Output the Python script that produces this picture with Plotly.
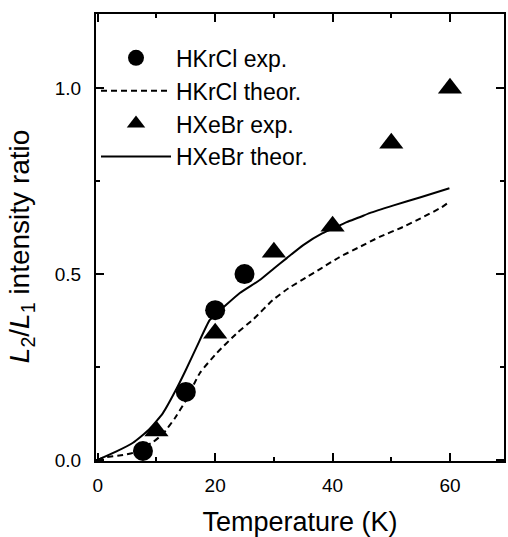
import plotly.graph_objects as go

# HKrCl experimental
t_hkrcl_exp = [7.7, 15, 20, 25]
r_hkrcl_exp = [0.024, 0.183, 0.403, 0.500]

# HXeBr experimental
t_hxebr_exp = [10, 20, 30, 40, 50, 60]
r_hxebr_exp = [0.078, 0.341, 0.559, 0.629, 0.852, 1.000]

# HKrCl theoretical (dashed)
t_hkrcl_th = [0, 0.9, 4.3, 6, 9.4, 11.1, 13.3, 15, 17.4, 20.3, 23.7, 26.6, 29.8, 32.5,
              35.6, 38, 41.2, 44.6, 48, 52, 55, 58.6, 59.5]
r_hkrcl_th = [0, 0.006, 0.013, 0.019, 0.048, 0.07, 0.116, 0.16, 0.234, 0.288, 0.341, 0.38,
              0.43, 0.462, 0.492, 0.515, 0.546, 0.573, 0.6, 0.627, 0.65, 0.68, 0.69]

# HXeBr theoretical (solid)
t_hxebr_th = [0, 3.1, 6, 8.7, 11.1, 13.3, 15, 16.85, 19.06, 20.3, 21.3, 24.2, 27.6, 30,
              32.2, 35, 38.3, 40, 42.4, 44.6, 46.3, 50.4, 55, 59.9]
r_hxebr_th = [0, 0.022, 0.046, 0.081, 0.126, 0.188, 0.242, 0.304, 0.376, 0.395, 0.409,
              0.449, 0.484, 0.515, 0.543, 0.578, 0.61, 0.622, 0.64, 0.653, 0.664, 0.685,
              0.707, 0.731]

FONT = "Liberation Sans, Arial, sans-serif"

fig = go.Figure()
fig.add_trace(go.Scatter(x=t_hkrcl_exp, y=r_hkrcl_exp, mode="markers", name="HKrCl exp.",
                         marker=dict(symbol="circle", size=20, color="black")))
fig.add_trace(go.Scatter(x=t_hkrcl_th, y=r_hkrcl_th, mode="lines", name="HKrCl theor.",
                         line=dict(color="black", width=2, dash="6px,4px",
                                   shape="spline", smoothing=0.5)))
fig.add_trace(go.Scatter(x=t_hxebr_exp, y=r_hxebr_exp, mode="markers", name="HXeBr exp.",
                         marker=dict(symbol="triangle-up", size=21, color="black")))
fig.add_trace(go.Scatter(x=t_hxebr_th, y=r_hxebr_th, mode="lines", name="HXeBr theor.",
                         line=dict(color="black", width=2, shape="spline", smoothing=0.5)))

axis_common = dict(showline=True, linewidth=2, linecolor="black", mirror="ticks",
                   ticks="inside", ticklen=8, tickwidth=2, tickcolor="black",
                   showgrid=False, zeroline=False, automargin=False,
                   tickfont=dict(family=FONT, size=19, color="black"))

fig.update_xaxes(range=[-0.3, 69.2], dtick=20, tick0=0, ticklabelstandoff=6,
                 minor=dict(ticks="inside", ticklen=4, tickwidth=1.5, dtick=10,
                            tickcolor="black", showgrid=False),
                 title=dict(text="Temperature (K)", font=dict(family=FONT, size=27, color="black"),
                            standoff=26),
                 **axis_common)
fig.update_yaxes(range=[-0.003, 1.2], dtick=0.5, tick0=0, tickformat=".1f",
                 ticklabelstandoff=9,
                 minor=dict(ticks="inside", ticklen=4, tickwidth=1.5, dtick=0.25,
                            tickcolor="black", showgrid=False),
                 **axis_common)

fig.add_annotation(text="<i>L</i><sub>2</sub>/<i>L</i><sub>1</sub> intensity ratio",
                   xref="paper", yref="paper", x=-0.181, y=0.481,
                   xanchor="center", yanchor="middle", textangle=-90, showarrow=False,
                   font=dict(family=FONT, size=28, color="black"))

fig.update_layout(
    width=508, height=537,
    margin=dict(l=96, r=4, t=14, b=76),
    paper_bgcolor="white", plot_bgcolor="white",
    showlegend=True,
    legend=dict(x=0.0, y=0.95, xanchor="left", yanchor="top",
                bgcolor="rgba(0,0,0,0)", borderwidth=0, itemwidth=70,
                font=dict(family=FONT, size=23, color="black"),
                tracegroupgap=0, itemsizing="trace"),
)

fig.write_html("out.html")
